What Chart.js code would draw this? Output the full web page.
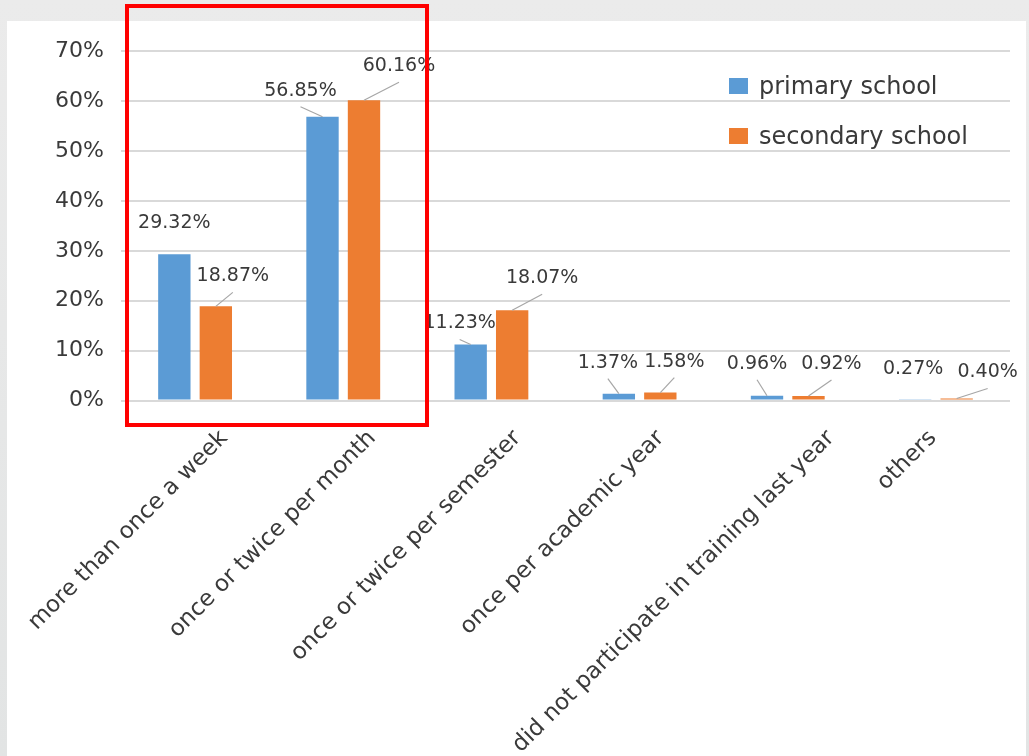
<!DOCTYPE html>
<html>
<head>
<meta charset="utf-8">
<title>Training frequency</title>
<script src="https://cdn.jsdelivr.net/npm/chart.js@4.4.1/dist/chart.umd.min.js"></script>
<style>
  html, body { margin: 0; padding: 0; }
  body {
    width: 1029px; height: 756px; overflow: hidden; position: relative;
    background: linear-gradient(to bottom, #ebebeb, #e2e4e4);
  }
  #panel { position: absolute; left: 7px; top: 21px; width: 1019px; height: 735px; background: #ffffff; }
  #highlight {
    position: absolute; left: 125px; top: 4px; width: 304px; height: 423px;
    box-sizing: border-box; border: 4px solid #ff0000; pointer-events: none;
  }
</style>
</head>
<body>
<div id="panel"><canvas id="freqChart" width="1019" height="735"></canvas></div>
<div id="highlight"></div>
<script>
const categories = [
    'more than once a week',
    'once or twice per month',
    'once or twice per semester',
    'once per academic year',
    'did not participate in training last year',
    'others'
];
const seriesNames = ['primary school', 'secondary school'];
const primaryValues = [29.32, 56.85, 11.23, 1.37, 0.96, 0.27];
const secondaryValues = [18.87, 60.16, 18.07, 1.58, 0.92, 0.40];
const yTickValues = [0, 10, 20, 30, 40, 50, 60, 70];

const seriesColors = ['#5b9bd5', '#ed7d31'];
const textColor = '#3a3a3a';
const fontFamily = "'DejaVu Sans', sans-serif";

// value labels are hand placed: offset of each label centre from the top of its bar
const labelOffsets = [
    [[0, -31], [-22, -26], [-11, -21], [-11, -31], [-10, -32], [-2, -30]],
    [[17, -30], [35, -34], [30, -32], [14, -31], [23, -32], [31, -26]]
];
// slanted category names, nudged sideways from their tick
const categoryNudge = [21, 21, 18, 13, 35, -11];

const annotate = {
    id: 'annotate',
    afterDatasetsDraw(chart) {
        const ctx = chart.ctx;
        ctx.save();
        ctx.font = '19px ' + fontFamily;
        ctx.textAlign = 'center';
        ctx.textBaseline = 'middle';
        chart.data.datasets.forEach((dataset, i) => {
            chart.getDatasetMeta(i).data.forEach((bar, j) => {
                const [dx, dy] = labelOffsets[i][j];
                const lx = bar.x + dx;
                const ly = bar.y + dy;
                if (Math.abs(dx) > 5) {
                    // leader line back to the bar
                    ctx.strokeStyle = '#a6a6a6';
                    ctx.lineWidth = 1.2;
                    ctx.beginPath();
                    ctx.moveTo(lx, ly + 16);
                    ctx.lineTo(bar.x, bar.y);
                    ctx.stroke();
                }
                ctx.fillStyle = textColor;
                ctx.fillText(dataset.data[j].toFixed(2) + '%', lx, ly);
            });
        });
        ctx.restore();
    },
    afterDraw(chart) {
        const ctx = chart.ctx;
        const xScale = chart.scales.x;

        ctx.save();
        ctx.fillStyle = textColor;
        ctx.font = '23px ' + fontFamily;
        ctx.textAlign = 'right';
        ctx.textBaseline = 'top';
        categories.forEach((name, i) => {
            ctx.save();
            ctx.translate(xScale.getPixelForTick(i) + categoryNudge[i], chart.chartArea.bottom + 26);
            ctx.rotate(-Math.PI / 4);
            ctx.fillText(name, 0, 0);
            ctx.restore();
        });

        // legend sits inside the plot, top right
        const legendX = 722;
        const legendY = [57, 107];
        ctx.font = '24px ' + fontFamily;
        ctx.textAlign = 'left';
        ctx.textBaseline = 'alphabetic';
        chart.data.datasets.forEach((dataset, i) => {
            ctx.fillStyle = dataset.backgroundColor;
            ctx.fillRect(legendX, legendY[i], 19, 16);
            ctx.fillStyle = textColor;
            ctx.fillText(dataset.label, legendX + 30, legendY[i] + 16);
        });
        ctx.restore();
    }
};

const freqChart = new Chart(document.getElementById('freqChart').getContext('2d'), {
    type: 'bar',
    data: {
        labels: categories,
        datasets: [
            {
                label: seriesNames[0],
                data: primaryValues,
                backgroundColor: seriesColors[0],
                categoryPercentage: 0.56,
                barPercentage: 0.78
            },
            {
                label: seriesNames[1],
                data: secondaryValues,
                backgroundColor: seriesColors[1],
                categoryPercentage: 0.56,
                barPercentage: 0.78
            }
        ]
    },
    options: {
        responsive: false,
        animation: false,
        devicePixelRatio: 1,
        layout: {
            padding: { top: 25, right: 16, left: 0, bottom: 0 }
        },
        scales: {
            x: {
                grid: { display: false },
                border: { display: false },
                ticks: { display: false },
                afterFit(scale) { scale.height = 355.5; }
            },
            y: {
                min: 0,
                max: 70,
                afterBuildTicks(scale) {
                    scale.ticks = yTickValues.map(v => ({ value: v }));
                },
                afterFit(scale) { scale.width = 114; },
                grid: { color: '#d9d9d9', lineWidth: 2, drawTicks: false },
                border: { display: false },
                ticks: {
                    color: textColor,
                    padding: 17,
                    font: { family: fontFamily, size: 22 },
                    callback: v => v + '%'
                }
            }
        },
        plugins: {
            legend: { display: false },
            tooltip: { enabled: false }
        }
    },
    plugins: [annotate]
});
</script>
</body>
</html>
